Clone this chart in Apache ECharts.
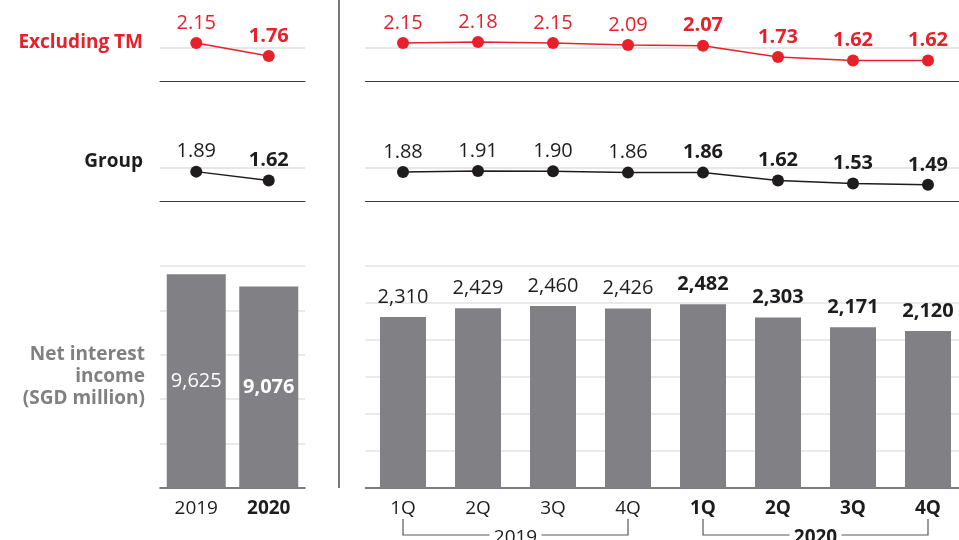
<!DOCTYPE html>
<html>
<head>
<meta charset="utf-8">
<script src="https://cdn.jsdelivr.net/npm/echarts@6/dist/echarts.min.js"></script>
<style>
html,body{margin:0;padding:0;background:#fff;}
#main{width:959px;height:540px;}
</style>
</head>
<body>
<div id="main"></div>
<script>
// ---- data ----
const years = ['2019', '2020'];
const quarterLabels = ['1Q', '2Q', '3Q', '4Q', '1Q', '2Q', '3Q', '4Q'];
const quarterYears = ['2019', '2019', '2019', '2019', '2020', '2020', '2020', '2020'];
const nimExTmAnnual = [2.15, 1.76];
const nimExTmQuarterly = [2.15, 2.18, 2.15, 2.09, 2.07, 1.73, 1.62, 1.62];
const nimGroupAnnual = [1.89, 1.62];
const nimGroupQuarterly = [1.88, 1.91, 1.90, 1.86, 1.86, 1.62, 1.53, 1.49];
const niiAnnual = [9625, 9076];
const niiQuarterly = [2310, 2429, 2460, 2426, 2482, 2303, 2171, 2120];
const rowLabels = ['Excluding TM', 'Group', 'Net interest\nincome\n(SGD million)'];

// ---- style ----
const FONT = 'Open Sans';
const RED = '#e8202a';
const DARK = '#1f1c1d';
const GREY_BAR = '#818185';
const GREY_TXT = '#808080';
const NUM_FS = 20;
const LBL_FS = 19;
const LX = 160, LW = 145, RX = 365.5, RW = 600;

const quarterKeys = quarterLabels.map((q, i) => quarterYears[i] + '-' + q);
const isBold = (y) => y === '2020';

const chart = echarts.init(document.getElementById('main'), null, {renderer: 'canvas'});

function lineX(gi, data) {
  return {
    type: 'category', gridIndex: gi, data: data, boundaryGap: true,
    axisLine: {show: true, lineStyle: {color: '#3a3a3a', width: 1.2}},
    axisTick: {show: false}, axisLabel: {show: false}, splitLine: {show: false}
  };
}
function lineY(gi) {
  return {
    type: 'value', gridIndex: gi, min: 1, max: 3, interval: 1,
    axisLine: {show: false}, axisTick: {show: false}, axisLabel: {show: false},
    splitLine: {show: true, showMinLine: false, showMaxLine: false, lineStyle: {color: '#dedede', width: 1.5}}
  };
}
function barX(gi, data, fmt) {
  return {
    type: 'category', gridIndex: gi, data: data, boundaryGap: true,
    axisLine: {show: true, lineStyle: {color: '#58585a', width: 1.5}},
    axisTick: {show: false},
    axisLabel: {
      interval: 0, margin: 11, fontFamily: FONT, fontSize: LBL_FS, color: DARK,
      formatter: fmt,
      rich: {
        n: {fontFamily: FONT, fontSize: LBL_FS, color: DARK, fontWeight: 'normal'},
        b: {fontFamily: FONT, fontSize: LBL_FS, color: DARK, fontWeight: 'bold'}
      }
    },
    splitLine: {show: false}
  };
}
function barY(gi, max, interval) {
  return {
    type: 'value', gridIndex: gi, min: 0, max: max, interval: interval,
    axisLine: {show: false}, axisTick: {show: false}, axisLabel: {show: false},
    splitLine: {show: true, lineStyle: {color: '#e3e3e3', width: 1.5}}
  };
}
function lineSeries(gi, values, color, boldFlags) {
  return {
    type: 'line', xAxisIndex: gi, yAxisIndex: gi,
    symbol: 'circle', symbolSize: 12, clip: false,
    itemStyle: {color: color},
    lineStyle: {color: color, width: 1.5},
    label: {show: true, position: 'top', distance: 4, fontFamily: FONT, fontSize: NUM_FS, color: color},
    data: values.map((v, i) => ({
      value: v,
      label: {fontWeight: boldFlags[i] ? 'bold' : 'normal', formatter: () => v.toFixed(2)}
    }))
  };
}
function grid(left, width, top, height) {
  return {left: left, width: width, top: top, height: height, containLabel: false, outerBoundsMode: 'none'};
}

const annualBold = years.map(isBold);
const quarterBold = quarterYears.map(isBold);

chart.setOption({
  animation: false,
  backgroundColor: '#ffffff',
  grid: [
    grid(LX, LW, 15, 66),
    grid(RX, RW, 15, 66),
    grid(LX, LW, 135, 66),
    grid(RX, RW, 135, 66),
    grid(LX, LW, 266, 222),
    grid(RX, RW, 266, 222)
  ],
  xAxis: [
    lineX(0, years), lineX(1, quarterKeys), lineX(2, years), lineX(3, quarterKeys),
    barX(4, years, (v) => (isBold(v) ? '{b|' : '{n|') + v + '}'),
    barX(5, quarterKeys, (v) => {
      const parts = v.split('-');
      return (isBold(parts[0]) ? '{b|' : '{n|') + parts[1] + '}';
    })
  ],
  yAxis: [lineY(0), lineY(1), lineY(2), lineY(3), barY(4, 10000, 2000), barY(5, 3000, 500)],
  series: [
    lineSeries(0, nimExTmAnnual, RED, annualBold),
    lineSeries(1, nimExTmQuarterly, RED, quarterBold),
    lineSeries(2, nimGroupAnnual, DARK, annualBold),
    lineSeries(3, nimGroupQuarterly, DARK, quarterBold),
    {
      type: 'bar', xAxisIndex: 4, yAxisIndex: 4, barWidth: 59,
      itemStyle: {color: GREY_BAR},
      label: {show: true, position: 'inside', fontFamily: FONT, fontSize: NUM_FS, color: '#ffffff'},
      data: niiAnnual.map((v, i) => ({
        value: v,
        label: {fontWeight: annualBold[i] ? 'bold' : 'normal', formatter: () => v.toLocaleString('en-US')}
      }))
    },
    {
      type: 'bar', xAxisIndex: 5, yAxisIndex: 5, barWidth: 46,
      itemStyle: {color: GREY_BAR},
      label: {show: true, position: 'top', distance: 10, fontFamily: FONT, fontSize: NUM_FS, color: DARK},
      data: niiQuarterly.map((v, i) => ({
        value: v,
        label: {fontWeight: quarterBold[i] ? 'bold' : 'normal', formatter: () => v.toLocaleString('en-US')}
      }))
    }
  ],
  graphic: [
    {type: 'line', id: 'divider', shape: {x1: 339, y1: 0, x2: 339, y2: 488}, style: {stroke: '#4a4a4a', lineWidth: 1.5}},
    {type: 'text', id: 'lblEx', x: 143, y: 43, style: {text: rowLabels[0], fontFamily: FONT, fontSize: LBL_FS, fontWeight: 'bold', fill: RED, align: 'right', verticalAlign: 'middle'}},
    {type: 'text', id: 'lblGrp', x: 143, y: 162, style: {text: rowLabels[1], fontFamily: FONT, fontSize: LBL_FS, fontWeight: 'bold', fill: DARK, align: 'right', verticalAlign: 'middle'}},
    {type: 'text', id: 'lblNii', x: 145, y: 377, style: {text: rowLabels[2], fontFamily: FONT, fontSize: LBL_FS, fontWeight: 'bold', fill: GREY_TXT, align: 'right', verticalAlign: 'middle', lineHeight: 22}}
  ]
});

// year brackets under the quarterly axis, positioned from the axis scale
const brackets = [];
years.forEach((yr, k) => {
  const idx = quarterYears.map((y, i) => (y === yr ? i : -1)).filter(i => i >= 0);
  const x1 = chart.convertToPixel({xAxisIndex: 5}, quarterKeys[idx[0]]);
  const x2 = chart.convertToPixel({xAxisIndex: 5}, quarterKeys[idx[idx.length - 1]]);
  const mid = (x1 + x2) / 2;
  const yTop = 519, yB = 535, gap = 26;
  brackets.push({
    type: 'polyline', id: 'brL' + k,
    shape: {points: [[x1, yTop], [x1, yB], [mid - gap, yB]]},
    style: {stroke: '#58585a', lineWidth: 1.2, fill: null}
  });
  brackets.push({
    type: 'polyline', id: 'brR' + k,
    shape: {points: [[mid + gap, yB], [x2, yB], [x2, yTop]]},
    style: {stroke: '#58585a', lineWidth: 1.2, fill: null}
  });
  brackets.push({
    type: 'text', id: 'brT' + k, x: mid, y: 538,
    style: {text: yr, fontFamily: FONT, fontSize: LBL_FS, fontWeight: isBold(yr) ? 'bold' : 'normal', fill: DARK, align: 'center', verticalAlign: 'middle'}
  });
});
chart.setOption({graphic: brackets});
</script>
</body>
</html>
